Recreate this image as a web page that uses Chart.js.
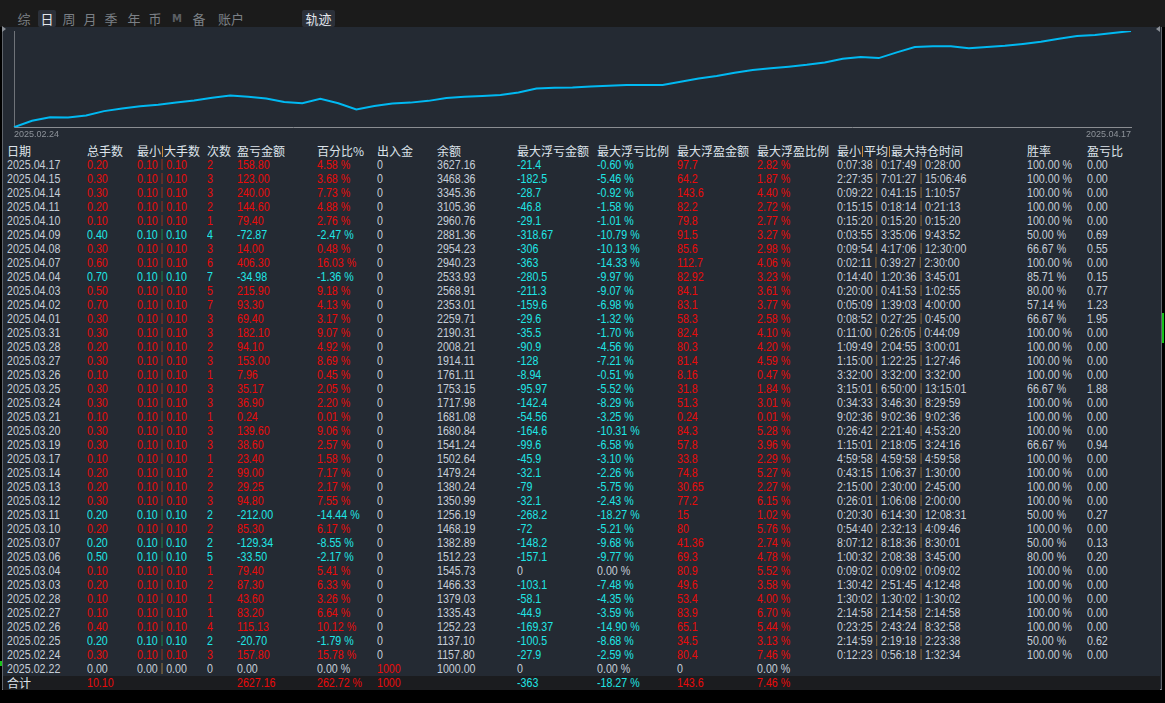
<!DOCTYPE html>
<html lang="zh-CN">
<head>
<meta charset="UTF-8">
<title>日 - 轨迹</title>
<script src="https://cdn.jsdelivr.net/npm/chart.js"></script>
<style>
  body { margin:0; width:1165px; height:703px; background:#000; overflow:hidden; position:relative;
         font-family:"Liberation Sans",Arial,sans-serif; }
  .topbar { position:absolute; left:0; top:0; width:1165px; height:27px; background:#1b1b1b; }
  .tab { position:absolute; top:10px; height:17px; font:13px "Noto Sans CJK SC",sans-serif; line-height:17px; color:#7b8086; text-align:center; }
  .tab.on { background:#2b3039; color:#e2e6ec; border-radius:2px; }
  .tab.m { font:bold 10px "DejaVu Sans",sans-serif; line-height:17px; color:#5b5f64; }
  .panel { position:absolute; left:2px; top:27px; width:1158px; height:662px; background:#242a33;
           border-left:1px solid #5f646b; border-right:1px solid #5f646b; border-bottom:1px solid #8a8f96; }
  #chartBox { position:absolute; left:0; top:27px; width:1165px; height:115px; }
  .row { position:absolute; left:3px; width:1157px; height:14px; line-height:14px; font-size:13px; white-space:nowrap; }
  .row span { position:absolute; top:0; transform:scaleX(0.82); transform-origin:0 50%; }
  .head span, .row span.cjk { font:12px "Noto Sans CJK SC",sans-serif; line-height:14px; color:#dde3ea; transform:none; }
  .total { background:#1b1c1f; }
  .bar { display:inline-block; width:1px; height:11px; vertical-align:-1px; margin:0 1px; }
</style>
</head>
<body>
<div class="topbar">
  <div class="tab" style="left:16px;width:16px">综</div>
  <div class="tab on" style="left:38px;width:18px">日</div>
  <div class="tab" style="left:61px;width:16px">周</div>
  <div class="tab" style="left:82px;width:16px">月</div>
  <div class="tab" style="left:103px;width:16px">季</div>
  <div class="tab" style="left:126px;width:16px">年</div>
  <div class="tab" style="left:147px;width:16px">币</div>
  <div class="tab m" style="left:172px;width:10px">M</div>
  <div class="tab" style="left:191px;width:16px">备</div>
  <div class="tab" style="left:217px;width:28px">账户</div>
  <div class="tab on" style="left:302px;width:33px">轨迹</div>
</div>
<div class="panel"></div>
<div style="position:absolute;left:2px;top:26px;width:0;height:0;border-top:3px solid transparent;border-bottom:3px solid transparent;border-left:4px solid #8a8f96"></div>
<div style="position:absolute;left:1156px;top:26px;width:0;height:0;border-top:3px solid transparent;border-bottom:3px solid transparent;border-right:4px solid #8a8f96"></div>
<div style="position:absolute;left:1162px;top:313px;width:2px;height:30px;background:#19c31a"></div>
<div style="position:absolute;left:0;top:661px;width:2px;height:5px;background:#19c31a"></div>
<div id="chartBox"><canvas id="curve"></canvas></div>
<div id="table"></div>

<script>
// equity curve: cumulative return (%), left to right
const curveTicks = ['2025.02.24', '2025.04.17'];
const curveValues = [0, 9.1, 14.2, 13.9, 16.7, 22.9, 26.5, 29.7, 32.1, 35.1, 37.9, 41.9, 45.0, 43.3,
  40.9, 35.8, 34.0, 40.3, 34.1, 25.2, 30.3, 33.8, 35.0, 37.5, 41.5, 43.5, 44.6, 45.9, 49.4, 55.1,
  56.2, 56.6, 57.9, 59.0, 60.2, 60.2, 60.2, 64.7, 69.4, 72.9, 77.4, 81.4, 83.9, 86.2, 88.8, 92.0,
  97.5, 99.8, 98.4, 106.6, 114.1, 115.4, 115.4, 112.5, 114.2, 115.9, 118.6, 121.6, 126.1, 130.0,
  131.2, 134.2, 137.0];

// daily table
const dates = ['2025.04.17','2025.04.15','2025.04.14','2025.04.11','2025.04.10','2025.04.09','2025.04.08',
  '2025.04.07','2025.04.04','2025.04.03','2025.04.02','2025.04.01','2025.03.31','2025.03.28','2025.03.27',
  '2025.03.26','2025.03.25','2025.03.24','2025.03.21','2025.03.20','2025.03.19','2025.03.17','2025.03.14',
  '2025.03.13','2025.03.12','2025.03.11','2025.03.10','2025.03.07','2025.03.06','2025.03.04','2025.03.03',
  '2025.02.28','2025.02.27','2025.02.26','2025.02.25','2025.02.24','2025.02.22'];
const lots = ['0.20','0.30','0.30','0.20','0.10','0.40','0.30','0.60','0.70','0.50','0.70','0.30','0.30',
  '0.20','0.30','0.10','0.30','0.30','0.10','0.30','0.30','0.10','0.20','0.20','0.30','0.20','0.20','0.20',
  '0.50','0.10','0.20','0.10','0.10','0.40','0.20','0.30','0.00'];
const minLots = ['0.10','0.10','0.10','0.10','0.10','0.10','0.10','0.10','0.10','0.10','0.10','0.10','0.10',
  '0.10','0.10','0.10','0.10','0.10','0.10','0.10','0.10','0.10','0.10','0.10','0.10','0.10','0.10','0.10',
  '0.10','0.10','0.10','0.10','0.10','0.10','0.10','0.10','0.00'];
const maxLots = minLots.slice();
const counts = [2,3,3,2,1,4,3,6,7,5,7,3,3,2,3,1,3,3,1,3,3,1,2,2,3,2,2,2,5,1,2,1,1,4,2,3,0];
const pnl = ['158.80','123.00','240.00','144.60','79.40','-72.87','14.00','406.30','-34.98','215.90','93.30',
  '69.40','182.10','94.10','153.00','7.96','35.17','36.90','0.24','139.60','38.60','23.40','99.00','29.25',
  '94.80','-212.00','85.30','-129.34','-33.50','79.40','87.30','43.60','83.20','115.13','-20.70','157.80','0.00'];
const pct = ['4.58','3.68','7.73','4.88','2.76','-2.47','0.48','16.03','-1.36','9.18','4.13','3.17','9.07',
  '4.92','8.69','0.45','2.05','2.20','0.01','9.06','2.57','1.58','7.17','2.17','7.55','-14.44','6.17','-8.55',
  '-2.17','5.41','6.33','3.26','6.64','10.12','-1.79','15.78','0.00'];
const flows = ['0','0','0','0','0','0','0','0','0','0','0','0','0','0','0','0','0','0','0','0','0','0','0',
  '0','0','0','0','0','0','0','0','0','0','0','0','0','1000'];
const balance = ['3627.16','3468.36','3345.36','3105.36','2960.76','2881.36','2954.23','2940.23','2533.93',
  '2568.91','2353.01','2259.71','2190.31','2008.21','1914.11','1761.11','1753.15','1717.98','1681.08',
  '1680.84','1541.24','1502.64','1479.24','1380.24','1350.99','1256.19','1468.19','1382.89','1512.23',
  '1545.73','1466.33','1379.03','1335.43','1252.23','1137.10','1157.80','1000.00'];
const maxLoss = ['-21.4','-182.5','-28.7','-46.8','-29.1','-318.67','-306','-363','-280.5','-211.3','-159.6',
  '-29.6','-35.5','-90.9','-128','-8.94','-95.97','-142.4','-54.56','-164.6','-99.6','-45.9','-32.1','-79',
  '-32.1','-268.2','-72','-148.2','-157.1','0','-103.1','-58.1','-44.9','-169.37','-100.5','-27.9','0'];
const maxLossPct = ['-0.60','-5.46','-0.92','-1.58','-1.01','-10.79','-10.13','-14.33','-9.97','-9.07','-6.98',
  '-1.32','-1.70','-4.56','-7.21','-0.51','-5.52','-8.29','-3.25','-10.31','-6.58','-3.10','-2.26','-5.75',
  '-2.43','-18.27','-5.21','-9.68','-9.77','0.00','-7.48','-4.35','-3.59','-14.90','-8.68','-2.59','0.00'];
const maxGain = ['97.7','64.2','143.6','82.2','79.8','91.5','85.6','112.7','82.92','84.1','83.1','58.3','82.4',
  '80.3','81.4','8.16','31.8','51.3','0.24','84.3','57.8','33.8','74.8','30.65','77.2','15','80','41.36',
  '69.3','80.9','49.6','53.4','83.9','65.1','34.5','80.4','0'];
const maxGainPct = ['2.82','1.87','4.40','2.72','2.77','3.27','2.98','4.06','3.23','3.61','3.77','2.58','4.10',
  '4.20','4.59','0.47','1.84','3.01','0.01','5.28','3.96','2.29','5.27','2.27','6.15','1.02','5.76','2.74',
  '4.78','5.52','3.58','4.00','6.70','5.44','3.13','7.46','0.00'];
const holdMin = ['0:07:38','2:27:35','0:09:22','0:15:15','0:15:20','0:03:55','0:09:54','0:02:11','0:14:40',
  '0:20:00','0:05:09','0:08:52','0:11:00','1:09:49','1:15:00','3:32:00','3:15:01','0:34:33','9:02:36',
  '0:26:42','1:15:01','4:59:58','0:43:15','2:15:00','0:26:01','0:20:30','0:54:40','8:07:12','1:00:32',
  '0:09:02','1:30:42','1:30:02','2:14:58','0:23:25','2:14:59','0:12:23',''];
const holdAvg = ['0:17:49','7:01:27','0:41:15','0:18:14','0:15:20','3:35:06','4:17:06','0:39:27','1:20:36',
  '0:41:53','1:39:03','0:27:25','0:26:05','2:04:55','1:22:25','3:32:00','6:50:00','3:46:30','9:02:36',
  '2:21:40','2:18:05','4:59:58','1:06:37','2:30:00','1:06:08','6:14:30','2:32:13','8:18:36','2:08:38',
  '0:09:02','2:51:45','1:30:02','2:14:58','2:43:24','2:19:18','0:56:18',''];
const holdMax = ['0:28:00','15:06:46','1:10:57','0:21:13','0:15:20','9:43:52','12:30:00','2:30:00','3:45:01',
  '1:02:55','4:00:00','0:45:00','0:44:09','3:00:01','1:27:46','3:32:00','13:15:01','8:29:59','9:02:36',
  '4:53:20','3:24:16','4:59:58','1:30:00','2:45:00','2:00:00','12:08:31','4:09:46','8:30:01','3:45:00',
  '0:09:02','4:12:48','1:30:02','2:14:58','8:32:58','2:23:38','1:32:34',''];
const winRate = ['100.00','100.00','100.00','100.00','100.00','50.00','66.67','100.00','85.71','80.00','57.14',
  '66.67','100.00','100.00','100.00','100.00','66.67','100.00','100.00','100.00','66.67','100.00','100.00',
  '100.00','100.00','50.00','100.00','50.00','80.00','100.00','100.00','100.00','100.00','100.00','50.00',
  '100.00',''];
const pnlRatio = ['0.00','0.00','0.00','0.00','0.00','0.69','0.55','0.00','0.15','0.77','1.23','1.95','0.00',
  '0.00','0.00','0.00','1.88','0.00','0.00','0.00','0.94','0.00','0.00','0.00','0.00','0.27','0.00','0.13',
  '0.20','0.00','0.00','0.00','0.00','0.00','0.62','0.00',''];

const headers = ['日期','总手数','最小|大手数','次数','盈亏金额','百分比%','出入金','余额','最大浮亏金额',
  '最大浮亏比例','最大浮盈金额','最大浮盈比例','最小|平均|最大持仓时间','胜率','盈亏比'];
const totals = { label:'合计', lots:'10.10', pnl:'2627.16', pct:'262.72', flow:'1000',
  maxLoss:'-363', maxLossPct:'-18.27', maxGain:'143.6', maxGainPct:'7.46' };

// layout
const colX = [4, 84, 134, 204, 234, 314, 374, 434, 514, 594, 674, 754, 834, 1024, 1084];
const RED = '#ea0a0a', CYAN = '#1fe6e6', WHITE = '#c6ced8', SEP = '#a87a3e';
const headTop = 144, rowTop = 158, rowH = 14;

const table = document.getElementById('table');

function makeRow(top, cls) {
  const r = document.createElement('div');
  r.className = 'row' + (cls ? ' ' + cls : '');
  r.style.top = top + 'px';
  table.appendChild(r);
  return r;
}
function put(r, col, html, color, cls) {
  const s = document.createElement('span');
  if (cls) s.className = cls;
  s.style.left = colX[col] + 'px';
  if (color) s.style.color = color;
  s.innerHTML = html;
  r.appendChild(s);
}
function joinBars(parts, barColor) {
  return parts.join('<i class="bar" style="background:' + barColor + '"></i>');
}

// header
const hr = makeRow(headTop, 'head');
headers.forEach((h, c) => put(hr, c, joinBars(h.split('|'), '#c98a3a')));

// rows
dates.forEach((d, i) => {
  const r = makeRow(rowTop + i * rowH);
  const v = parseFloat(pnl[i]);
  const rc = v > 0 ? RED : v < 0 ? CYAN : WHITE;
  const barC = v > 0 ? '#b4341a' : v < 0 ? '#14a356' : '#b88a45';
  put(r, 0, d, WHITE);
  put(r, 1, lots[i], rc);
  put(r, 2, minLots[i] + ' ' + joinBars(['', ''], barC) + ' ' + maxLots[i], rc);
  put(r, 3, String(counts[i]), rc);
  put(r, 4, pnl[i], rc);
  put(r, 5, pct[i] + ' %', rc);
  put(r, 6, flows[i], flows[i] === '0' ? WHITE : RED);
  put(r, 7, balance[i], WHITE);
  put(r, 8, maxLoss[i], parseFloat(maxLoss[i]) === 0 ? WHITE : CYAN);
  put(r, 9, maxLossPct[i] + ' %', parseFloat(maxLossPct[i]) === 0 ? WHITE : CYAN);
  put(r, 10, maxGain[i], parseFloat(maxGain[i]) === 0 ? WHITE : RED);
  put(r, 11, maxGainPct[i] + ' %', parseFloat(maxGainPct[i]) === 0 ? WHITE : RED);
  if (holdMin[i]) {
    put(r, 12, holdMin[i] + ' ' + joinBars(['', ''], SEP) + ' ' + holdAvg[i] + ' ' +
      joinBars(['', ''], SEP) + ' ' + holdMax[i], WHITE);
    put(r, 13, winRate[i] + ' %', WHITE);
    put(r, 14, pnlRatio[i], WHITE);
  }
});

// total row
const tr = makeRow(rowTop + dates.length * rowH, 'total');
put(tr, 0, totals.label, '#dde3ea', 'cjk');
put(tr, 1, totals.lots, RED);
put(tr, 4, totals.pnl, RED);
put(tr, 5, totals.pct + ' %', RED);
put(tr, 6, totals.flow, RED);
put(tr, 8, totals.maxLoss, CYAN);
put(tr, 9, totals.maxLossPct + ' %', CYAN);
put(tr, 10, totals.maxGain, RED);
put(tr, 11, totals.maxGainPct + ' %', RED);

// curve chart
const ctx = document.getElementById('curve');
new Chart(ctx, {
  type: 'line',
  data: {
    labels: curveValues.map((v, i) => i),
    datasets: [{
      data: curveValues,
      borderColor: '#00b9f2',
      borderWidth: 2,
      pointRadius: 0,
      tension: 0,
      fill: false
    }]
  },
  options: {
    responsive: true,
    maintainAspectRatio: false,
    animation: false,
    layout: { padding: { left: 14, right: 34, top: 4, bottom: 0 } },
    plugins: { legend: { display: false }, tooltip: { enabled: false } },
    scales: {
      x: {
        grid: { color: 'transparent', drawTicks: false },
        border: { color: '#8a8d92', width: 1 },
        ticks: {
          autoSkip: false, maxRotation: 0, align: 'inner', padding: 2,
          color: '#8e939a', font: { size: 9, family: 'Liberation Sans' },
          callback: (v, i, t) => i === 0 ? curveTicks[0] : (i === t.length - 1 ? curveTicks[1] : '')
        }
      },
      y: {
        min: 0, max: 137,
        grid: { color: 'transparent', drawTicks: false },
        border: { color: '#6f7379', width: 1 },
        ticks: { display: false }
      }
    }
  }
});
</script>
</body>
</html>
